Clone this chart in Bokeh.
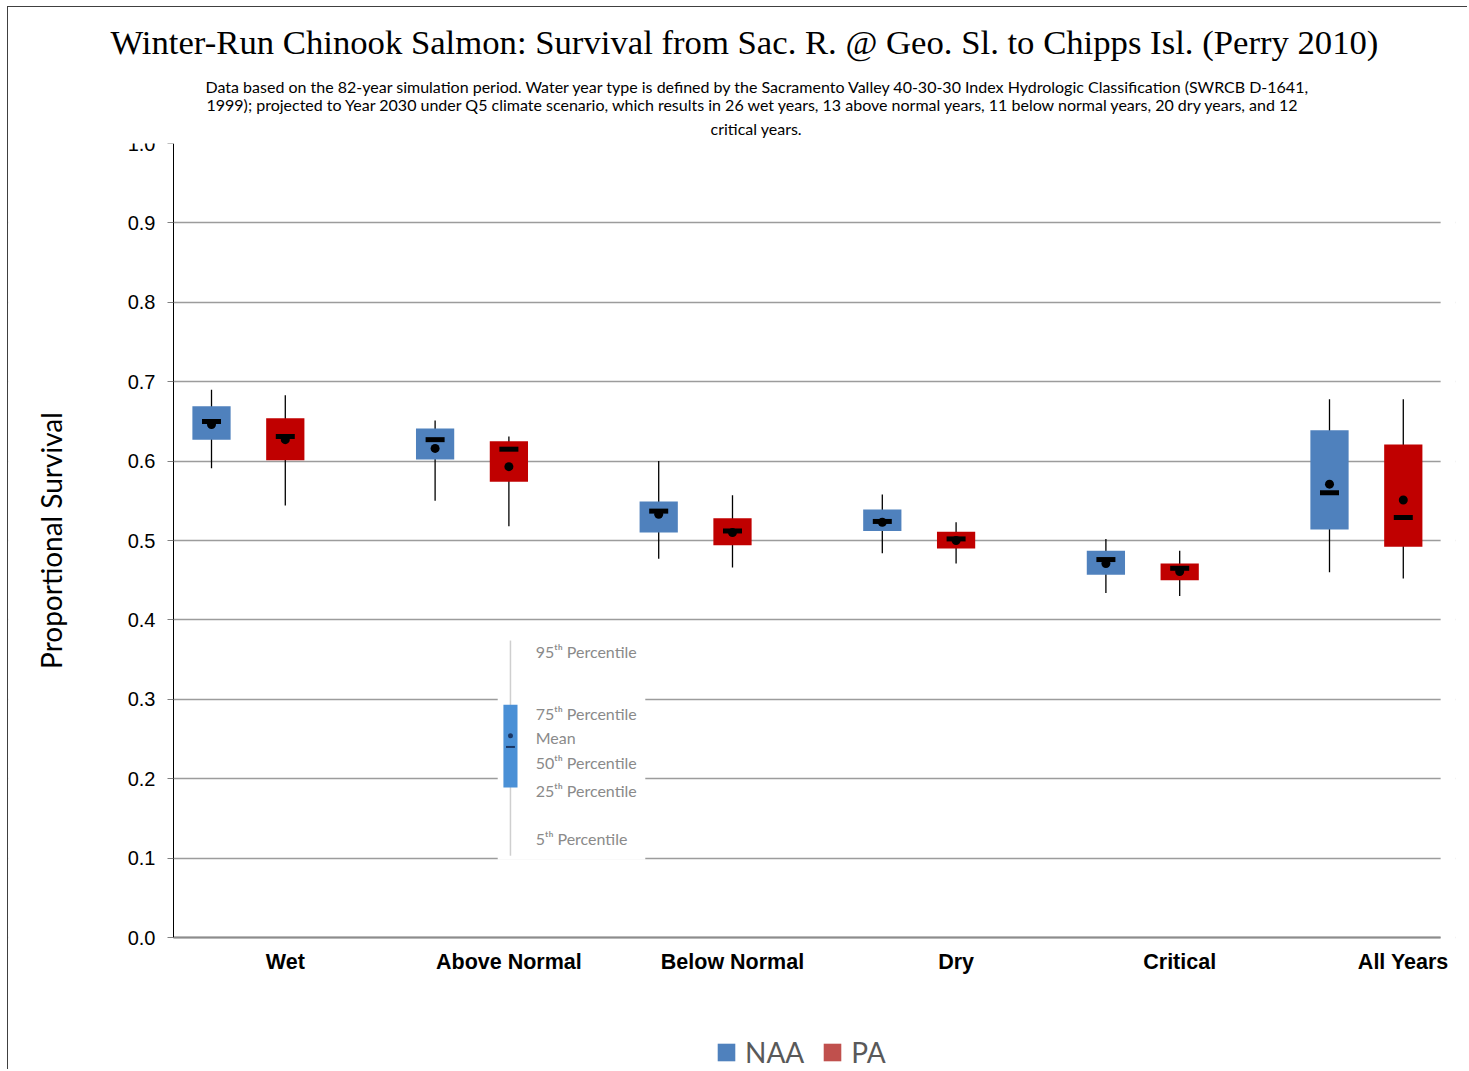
import math
from bokeh.plotting import figure
from bokeh.models import (Legend, LegendItem, FixedTicker, NumeralTickFormatter,
                          ColumnDataSource, Range1d, Title)
from bokeh.embed import file_html
from bokeh.resources import INLINE
from bokeh.core.properties import value

# ---------------- data ----------------
categories = ["Wet", "Above Normal", "Below Normal", "Dry", "Critical", "All Years"]

naa_p5   = [0.591, 0.550, 0.477, 0.484, 0.434, 0.460]
naa_p25  = [0.627, 0.602, 0.510, 0.512, 0.457, 0.514]
naa_p50  = [0.650, 0.627, 0.537, 0.524, 0.476, 0.560]
naa_mean = [0.646, 0.616, 0.533, 0.523, 0.471, 0.571]
naa_p75  = [0.669, 0.641, 0.549, 0.539, 0.487, 0.639]
naa_p95  = [0.690, 0.651, 0.600, 0.558, 0.502, 0.678]

pa_p5   = [0.544, 0.518, 0.466, 0.471, 0.430, 0.452]
pa_p25  = [0.601, 0.574, 0.494, 0.490, 0.450, 0.492]
pa_p50  = [0.631, 0.615, 0.512, 0.502, 0.465, 0.529]
pa_mean = [0.627, 0.593, 0.510, 0.500, 0.461, 0.551]
pa_p75  = [0.654, 0.625, 0.528, 0.511, 0.471, 0.621]
pa_p95  = [0.683, 0.631, 0.557, 0.523, 0.487, 0.678]

y_ticks = [0.0, 0.1, 0.2, 0.3, 0.4, 0.5, 0.6, 0.7, 0.8, 0.9, 1.0]

# example box of the explanatory inset
ex_p5, ex_p25, ex_p50, ex_mean, ex_p75, ex_p95 = 0.103, 0.189, 0.240, 0.254, 0.293, 0.374
ex_labels = ["95\u1d57\u02b0 Percentile", "75\u1d57\u02b0 Percentile", "Mean",
             "50\u1d57\u02b0 Percentile", "25\u1d57\u02b0 Percentile", "5\u1d57\u02b0 Percentile"]
ex_label_y = [0.360, 0.282, 0.252, 0.220, 0.185, 0.125]

title_text = "Winter-Run Chinook Salmon: Survival from Sac. R. @ Geo. Sl. to Chipps Isl. (Perry 2010)"
subtitle_lines = [
    "Data based on the 82-year simulation period.  Water year type is defined by the Sacramento Valley 40-30-30 Index Hydrologic Classification (SWRCB D-1641,",
    "1999); projected to Year 2030 under Q5 climate scenario, which results in 26 wet years, 13 above normal years, 11 below normal years, 20 dry years, and 12",
    "critical years.",
]
y_label = "Proportional Survival"

NAA_COLOR = "#4F81BD"
PA_COLOR = "#C00000"
PA_LEGEND_COLOR = "#C0504D"

# ---------------- layout ----------------
x_idx = list(range(len(categories)))
naa_x = [i - 0.33 for i in x_idx]
pa_x = [float(i) for i in x_idx]
BOX_W = 0.171
MED_W = 0.085
X_AXIS_START, X_AXIS_END = -0.5, 5.167      # extent of the drawn axes
X_START, X_END = -1.2379, 5.2335             # frame spans the whole canvas width
Y_BOTTOM = -0.1675                           # room below 0 for the category labels and the legend
Y_LABEL_X = -1.05                            # position of the vertical axis title

p = figure(width=1460, height=1063, x_range=Range1d(X_START, X_END), y_range=Range1d(Y_BOTTOM, 1.0),
           output_backend="svg", toolbar_location=None, title=None,
           min_border_left=0, min_border_right=13, min_border_top=136, min_border_bottom=0)
p.styles = {"border-left": "1px solid #404040", "border-top": "1px solid #404040",
            "margin-left": "7px", "margin-top": "6px"}
p.outline_line_color = None
p.background_fill_color = "white"
p.border_fill_color = "white"

# grid
p.xgrid.visible = False
p.ygrid.ticker = FixedTicker(ticks=y_ticks)
p.ygrid.grid_line_color = "#9c9c9c"
p.ygrid.grid_line_width = 1.5

# y axis, drawn at x = -0.5
p.yaxis.fixed_location = X_AXIS_START
p.yaxis.ticker = FixedTicker(ticks=y_ticks)
p.yaxis.bounds = (0, 1)
p.yaxis.formatter = NumeralTickFormatter(format="0.0")
p.yaxis.major_label_text_font = "Liberation Sans"
p.yaxis.major_label_text_font_size = "20px"
p.yaxis.major_label_text_color = "black"
p.yaxis.major_label_standoff = 12
p.yaxis.major_tick_out = 6
p.yaxis.major_tick_in = 0
p.yaxis.minor_tick_line_color = None
p.yaxis.axis_line_color = "black"
p.yaxis.axis_line_width = 1
p.yaxis.major_tick_line_color = "#808080"

# x axis, drawn at y = 0
p.xaxis.fixed_location = 0
p.xaxis.bounds = (X_AXIS_START, X_AXIS_END)
p.xaxis.ticker = FixedTicker(ticks=x_idx)
p.xaxis.major_label_overrides = {i: c for i, c in zip(x_idx, categories)}
p.xaxis.major_label_text_font = "Liberation Sans"
p.xaxis.major_label_text_font_style = "bold"
p.xaxis.major_label_text_font_size = "21.5px"
p.xaxis.major_label_text_color = "black"
p.xaxis.major_label_standoff = 6
p.xaxis.major_tick_line_color = None
p.xaxis.minor_tick_line_color = None
p.xaxis.axis_line_color = "#8c8c8c"
p.xaxis.axis_line_width = 2

# white masks so the gridlines stop where the axes end
p.quad(left=[X_AXIS_END, X_START - 1], right=[X_END + 1, X_AXIS_START],
       bottom=[-0.006, -0.006], top=[1.01, 1.01], fill_color="white", line_color=None)

# vertical axis title
p.text(x=[Y_LABEL_X], y=[0.5], text=[y_label], angle=math.pi / 2,
       text_font=value("Lato"), text_font_size="28px", text_color="black",
       text_align="center", text_baseline="middle")

# ---------------- boxes ----------------
naa = ColumnDataSource(dict(x=naa_x, p5=naa_p5, p25=naa_p25, p50=naa_p50, mean=naa_mean,
                            p75=naa_p75, p95=naa_p95))
pa = ColumnDataSource(dict(x=pa_x, p5=pa_p5, p25=pa_p25, p50=pa_p50, mean=pa_mean,
                           p75=pa_p75, p95=pa_p95))

box_renderers = []
for src, col in ((naa, NAA_COLOR), (pa, PA_COLOR)):
    p.segment(x0="x", x1="x", y0="p5", y1="p95", source=src, line_color="black", line_width=1.3)
    box_renderers.append(p.vbar(x="x", width=BOX_W, bottom="p25", top="p75", source=src,
                                fill_color=col, line_color=None))
    p.rect(x="x", y="p50", width=MED_W, height=5, height_units="screen", source=src,
           fill_color="black", line_color=None)
    p.scatter(x="x", y="mean", size=9, source=src, fill_color="black", line_color=None)

# ---------------- explanatory inset ----------------
INSET_X = 1.007
p.quad(left=[0.95], right=[1.61], bottom=[0.098], top=[0.381], fill_color="white", line_color=None)
p.segment(x0=[INSET_X], x1=[INSET_X], y0=[ex_p5], y1=[ex_p95], line_color="#cfcfcf", line_width=1.5)
p.vbar(x=[INSET_X], width=0.063, bottom=[ex_p25], top=[ex_p75], fill_color="#4A90D6", line_color=None)
p.rect(x=[INSET_X], y=[ex_p50], width=0.04, height=2, height_units="screen",
       fill_color="#1c3764", line_color=None)
p.scatter(x=[INSET_X], y=[ex_mean], size=5, fill_color="#1c3764", line_color=None)
p.text(x=[1.12] * len(ex_labels), y=ex_label_y, text=ex_labels, text_font=value("Lato"),
       text_font_size="16px", text_color="#8a8a8a", text_baseline="middle", text_align="left")

# ---------------- titles (first added = closest to the frame) ----------------
sub_offsets = [197, 198, 702]
sub_standoffs = [0, -5, 11]
for line, off, so in reversed(list(zip(subtitle_lines, sub_offsets, sub_standoffs))):
    p.add_layout(Title(text=line, align="left", offset=off, standoff=so,
                       text_font="Lato", text_font_size="16px", text_font_style="normal",
                       text_color="black"), "above")
p.add_layout(Title(text=title_text, align="left", offset=102, standoff=26,
                   text_font="Liberation Serif", text_font_size="34.7px",
                   text_font_style="normal", text_color="black"), "above")

# ---------------- legend ----------------
r_pa_legend = p.vbar(x="x", width=BOX_W, bottom="p25", top="p75", source=pa,
                     fill_color=PA_LEGEND_COLOR, line_color=None, visible=False)
legend = Legend(items=[LegendItem(label="NAA", renderers=[box_renderers[0]]),
                       LegendItem(label="PA", renderers=[r_pa_legend])],
                orientation="horizontal", location=(707, 1),
                glyph_width=22, glyph_height=22, label_text_font="Lato",
                label_text_font_size="28px", label_text_color="#595959",
                padding=0, margin=0, spacing=17, label_standoff=8,
                border_line_color=None, background_fill_alpha=0,
                inactive_fill_alpha=0)
p.add_layout(legend, "center")

open("out.html", "w").write(file_html(p, INLINE))
